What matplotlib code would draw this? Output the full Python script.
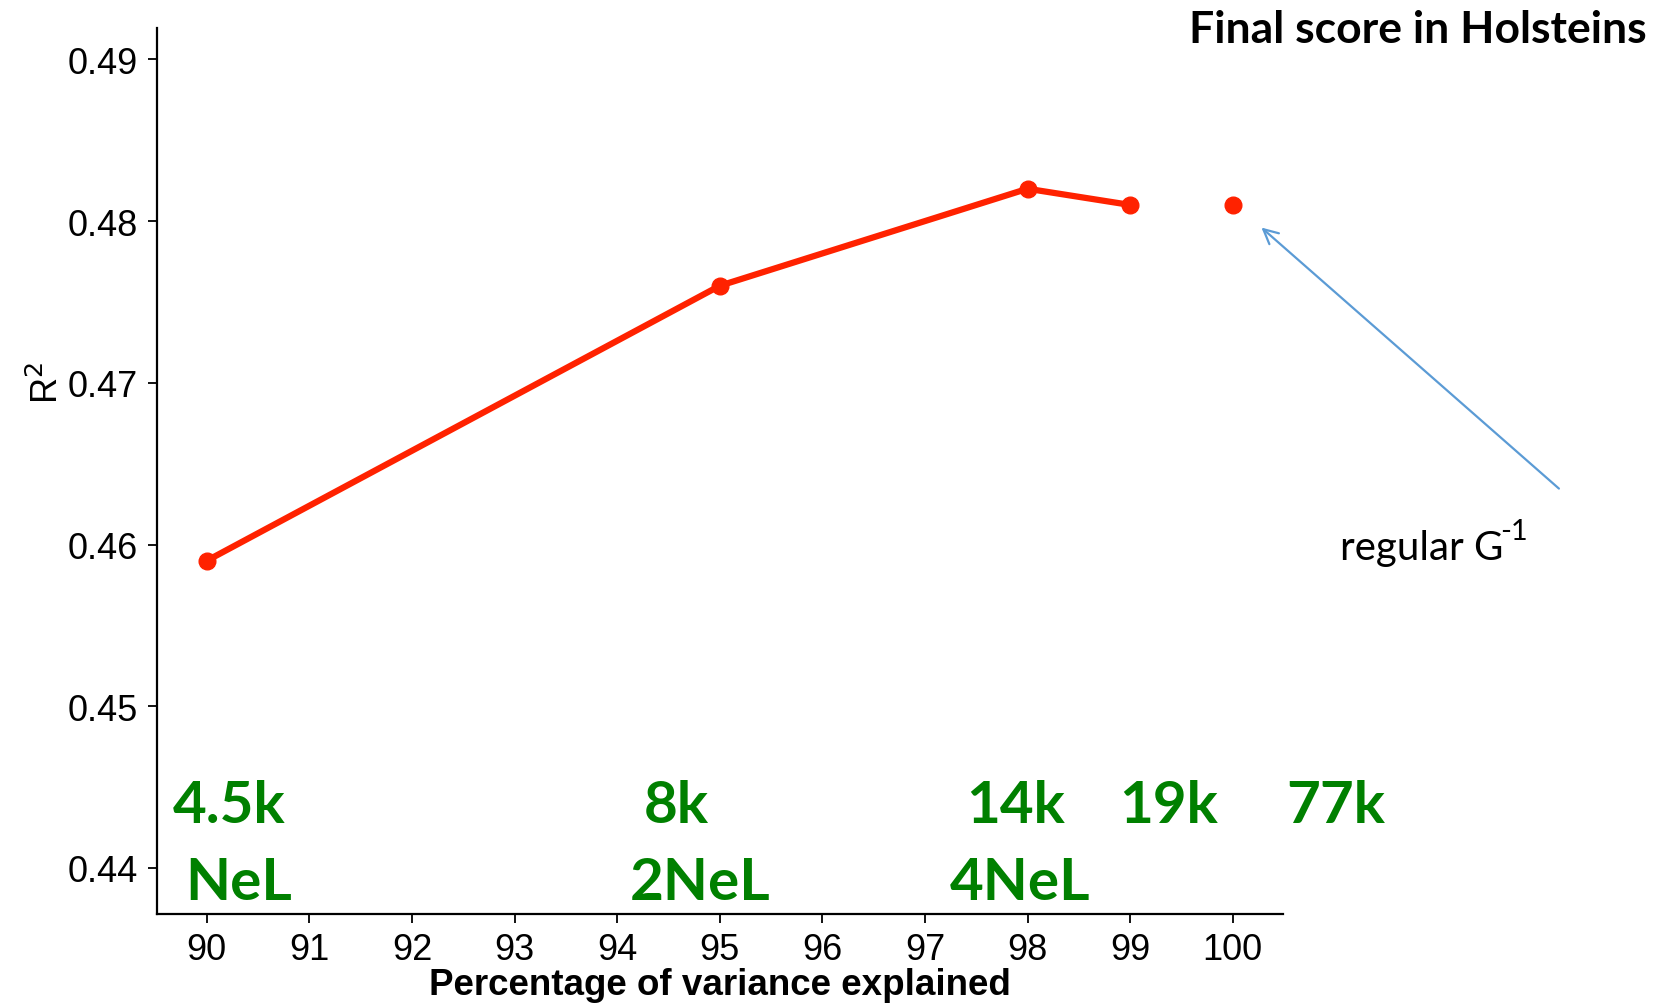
import matplotlib
matplotlib.use("Agg")
import matplotlib.pyplot as plt

# data
pct_line = [90, 95, 98, 99]
r2_line = [0.459, 0.476, 0.482, 0.481]
pct_regular = [100]
r2_regular = [0.481]
x_ticks = [90, 91, 92, 93, 94, 95, 96, 97, 98, 99, 100]
y_ticks = [0.44, 0.45, 0.46, 0.47, 0.48, 0.49]
n_labels = ["4.5k", "8k", "14k", "19k", "77k"]
n_label_x = [90.22, 94.58, 97.88, 99.37, 101.0]
nel_labels = ["NeL", "2NeL", "4NeL"]
nel_label_x = [90.31, 94.81, 97.93]

plt.rcParams['font.family'] = ['Liberation Sans', 'DejaVu Sans']
fig = plt.figure(figsize=(16.58, 10.04), dpi=100)
ax = fig.add_axes([0.0944, 0.0889, 0.6794, 0.8827])

red = '#FF2200'
ax.plot(pct_line, r2_line, color=red, lw=4.5, solid_capstyle='round', zorder=3)
ax.plot(pct_line, r2_line, 'o', color=red, ms=12, zorder=4)
ax.plot(pct_regular, r2_regular, 'o', color=red, ms=12, zorder=4)

ax.set_xlim(89.51, 100.49)
ax.set_ylim(0.43717, 0.49197)
ax.set_xticks(x_ticks)
ax.set_xticklabels([str(v) for v in x_ticks])
ax.set_yticks(y_ticks)
ax.set_yticklabels([f"{v:.2f}" for v in y_ticks])
for s in ['top', 'right']:
    ax.spines[s].set_visible(False)
for s in ['left', 'bottom']:
    ax.spines[s].set_linewidth(1.6)
ax.tick_params(axis='both', length=6.5, width=1.3, labelsize=26, pad=7, color='black')

ax.set_xlabel("Percentage of variance explained", fontsize=26.5, fontweight='bold', labelpad=0)
ax.set_ylabel("R$^2$", fontsize=26)
ax.yaxis.set_label_coords(-0.080, 0.6)

green = '#008000'
gfont = ['Lato', 'DejaVu Sans']
for lab, xv in zip(n_labels, n_label_x):
    ax.text(xv, 0.44287, lab, color=green, fontsize=42, fontweight='bold',
            ha='center', va='baseline', family=gfont, clip_on=False)
for lab, xv in zip(nel_labels, nel_label_x):
    ax.text(xv, 0.43808, lab, color=green, fontsize=42, fontweight='bold',
            ha='center', va='baseline', family=gfont, clip_on=False)

fig.text(0.993, 0.970, "Final score in Holsteins", fontsize=32, fontweight='bold',
         ha='right', va='center', family=gfont)

ax.annotate("", xy=(100.28, 0.4796), xytext=(103.18, 0.46346),
            arrowprops=dict(arrowstyle='->', color='#5B9BD5', lw=1.6,
                            mutation_scale=26, shrinkA=0, shrinkB=0),
            annotation_clip=False)

t = fig.text(1340 / 1658, 1 - 560 / 1004, "regular G", fontsize=29, ha='left',
             va='baseline', family=gfont)
fig.canvas.draw()
bb = t.get_window_extent()
fig.text((bb.x1 - 3) / 1658, (bb.y0 + bb.height * 0.6) / 1004, "-1", fontsize=21,
         ha='left', va='bottom', family=gfont)

fig.savefig("out.png", dpi=100)
